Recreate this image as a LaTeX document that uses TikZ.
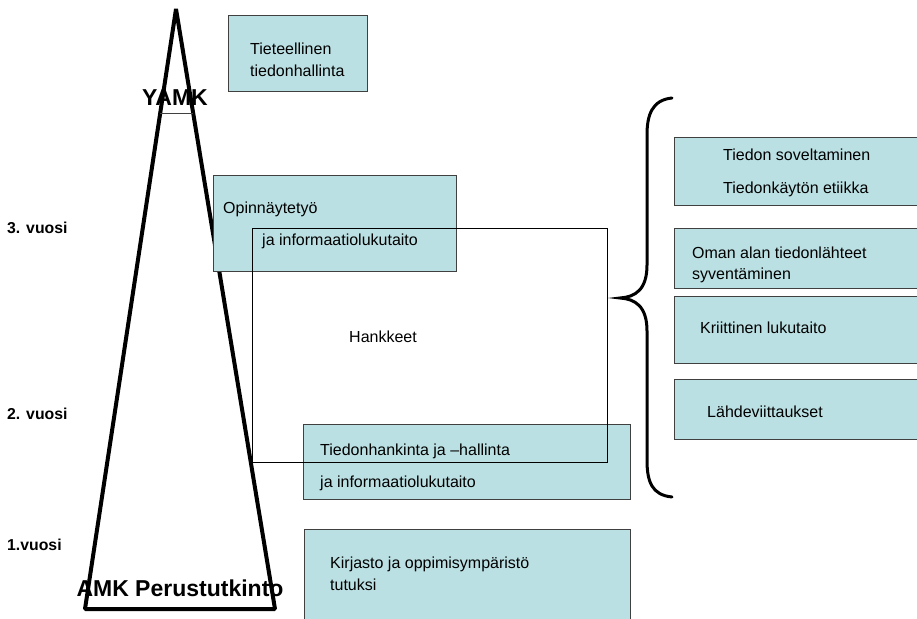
\documentclass[tikz,border=0pt]{standalone}
\usepackage{fontspec}
\setmainfont{Liberation Sans}
\usetikzlibrary{calc}
\definecolor{boxfill}{RGB}{187,224,227}
\definecolor{boxline}{RGB}{64,64,64}
\tikzset{
  box/.style={draw=boxline, line width=1pt, fill=boxfill, anchor=north west,
    inner sep=0pt, outer sep=0pt},
  projframe/.style={draw=black, line width=0.9pt, anchor=north west,
    inner sep=0pt, outer sep=0pt},
  txt/.style={anchor=base west, inner sep=0pt, font=\fontsize{16}{19}\selectfont},
  yearlabel/.style={anchor=base west, inner sep=0pt,
    font=\fontsize{15.8}{18}\selectfont\bfseries},
  levellabel/.style={anchor=base, inner sep=0pt,
    font=\fontsize{23}{27}\selectfont\bfseries},
  pyramid/.style={draw=black, line width=4pt, line join=bevel},
  bracestyle/.style={draw=black, line width=3pt, line cap=round},
}
\begin{document}
\begin{tikzpicture}[x=1pt, y=-1pt]
  \useasboundingbox (0,0) rectangle (917,618);
  \clip (0,0) rectangle (917,618);
  \fill[white] (0,0) rectangle (917,618);

  % degree pyramid
  \coordinate (apex) at (176,9);
  \coordinate (bl) at (85,609);
  \coordinate (br) at (275,609);
  \draw[pyramid] (apex) -- (bl) -- (br) -- cycle;
  \draw[boxline, line width=0.8pt] ($(apex)!0.1733!(bl)$) -- ($(apex)!0.1733!(br)$);

  % content boxes
  \node[box, minimum width=139pt, minimum height=75pt] (tiet) at (228,16) {};
  \node[box, minimum width=243pt, minimum height=96pt] (opin) at (213,175) {};
  \node[box, minimum width=327pt, minimum height=75pt] (hank) at (303,424) {};
  \node[box, minimum width=326pt, minimum height=111pt] (kirj) at (304,529) {};

  \node[box, minimum width=256pt, minimum height=68pt] (sovel) at (674,137) {};
  \node[box, minimum width=256pt, minimum height=60pt] (oman) at (674,228) {};
  \node[box, minimum width=256pt, minimum height=67pt] (kriit) at (674,296) {};
  \node[box, minimum width=256pt, minimum height=60pt] (lahde) at (674,379) {};

  % box texts
  \node[txt] (t1a) at (250,55) {Tieteellinen};
  \node[txt] (t1b) at (250,76) {tiedonhallinta};
  \node[txt] (t2a) at (223,213) {Opinnäytetyö};
  \node[txt] (t2b) at (262,245) {ja informaatiolukutaito};
  \node[txt] (t3a) at (320,455) {Tiedonhankinta ja –hallinta};
  \node[txt] (t3b) at (320,487) {ja informaatiolukutaito};
  \node[txt] (t4a) at (330,568) {Kirjasto ja oppimisympäristö};
  \node[txt] (t4b) at (330,590) {tutuksi};

  \node[txt] (r1a) at (723,160) {Tiedon soveltaminen};
  \node[txt] (r1b) at (723,193) {Tiedonkäytön etiikka};
  \node[txt] (r2a) at (692,258) {Oman alan tiedonlähteet};
  \node[txt] (r2b) at (692,279) {syventäminen};
  \node[txt] (r3) at (700,333) {Kriittinen lukutaito};
  \node[txt] (r4) at (707,417) {Lähdeviittaukset};

  % project frame
  \node[projframe, minimum width=355pt, minimum height=234pt] (proj) at (252,228) {};
  \node[txt] (projlabel) at (349,342) {Hankkeet};

  % brace grouping the right-hand boxes
  \draw[bracestyle] (672,98) .. controls (652,100) and (647,115) .. (647,135)
    -- (647,265) .. controls (647,290) and (635,297) .. (620,298)
    .. controls (635,299) and (647,306) .. (647,331)
    -- (647,460) .. controls (647,482) and (652,495) .. (672,497);

  % level and year labels
  \node[levellabel] (yamk) at (175,105) {YAMK};
  \node[levellabel] (amk) at (180,596) {AMK Perustutkinto};
  \node[yearlabel] (y3) at (7,233) {3. vuosi};
  \node[yearlabel] (y2) at (7,419) {2. vuosi};
  \node[yearlabel] (y1) at (7,550) {1.vuosi};
\end{tikzpicture}
\end{document}
